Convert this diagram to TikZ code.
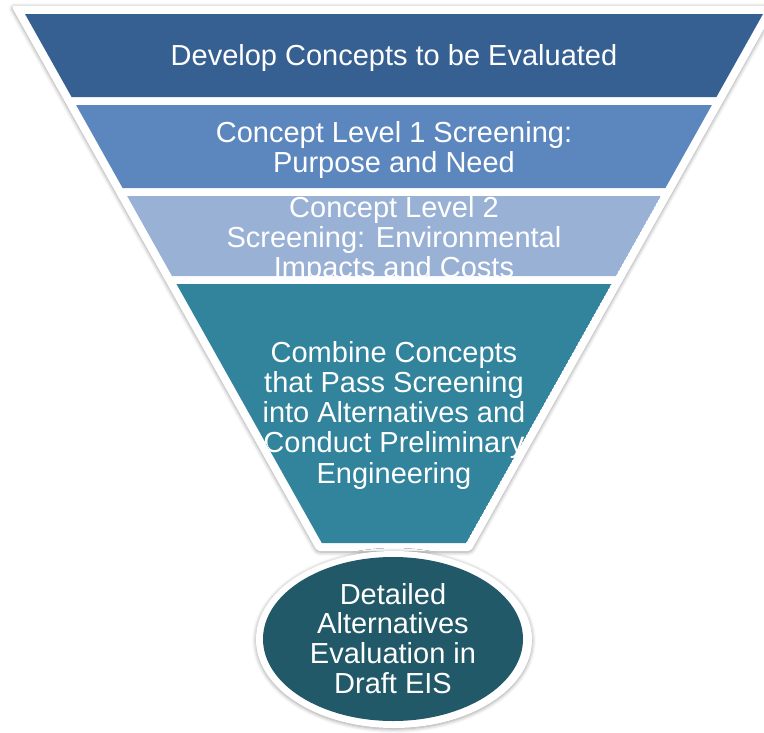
\documentclass[tikz,border=0pt]{standalone}
\usepackage{fontspec}
\setmainfont{Liberation Sans}
\usetikzlibrary{shadows.blur}
\definecolor{cA}{HTML}{366092}
\definecolor{cB}{HTML}{5B87BE}
\definecolor{cC}{HTML}{9AB1D6}
\definecolor{cD}{HTML}{31849B}
\definecolor{cE}{HTML}{215968}
\begin{document}
\begin{tikzpicture}[x=1pt,y=-1pt,
  lbl/.style={text=white,font=\fontsize{29}{30.3}\selectfont,align=center,anchor=base,inner sep=0pt},
  frame/.style={fill=white,blur shadow={shadow xshift=0pt,shadow yshift=-1pt,shadow blur radius=4pt,shadow opacity=40}}]
\useasboundingbox (0,0) rectangle (764,732);
% outer white funnel frame
\path[frame,rounded corners=3pt] (11.3,6) -- (776.7,6) -- (470.9,551) -- (317.1,551) -- cycle;
% ellipse frame
\path[frame] (394,639.5) ellipse (138 and 88.5);
% layer 1
\fill[cA] (25,14) -- (763,14) -- (716.4,97) -- (71.6,97) -- cycle;
\node[lbl] (t1) at (394,65) {Develop Concepts to be Evaluated};
% layer 2
\fill[cB] (76.1,105) -- (711.9,105) -- (665.4,188) -- (122.6,188) -- cycle;
\node[lbl] (t2) at (394,172.5) {Concept Level 1 Screening:\\Purpose and Need};
% layer 3
\begin{scope}
\clip (127.1,196) -- (660.9,196) -- (616.0,276) -- (172.0,276) -- cycle;
\fill[cC] (127.1,196) -- (660.9,196) -- (616.0,276) -- (172.0,276) -- cycle;
\node[lbl] (t3) at (394,277.6) {Concept Level 2\\Screening: Environmental\\Impacts and Costs};
\end{scope}
% layer 4
\begin{scope}
\clip (176.5,284) -- (611.5,284) -- (466.2,543) -- (321.8,543) -- cycle;
\fill[cD] (176.5,284) -- (611.5,284) -- (466.2,543) -- (321.8,543) -- cycle;
\node[lbl] (t4) at (394,483.2) {Combine Concepts\\that Pass Screening\\into Alternatives and\\Conduct Preliminary\\Engineering};
\end{scope}
% ellipse
\fill[cE] (393,639) ellipse (130 and 82);
\node[lbl,font=\fontsize{29}{29.7}\selectfont] (t5) at (393,693.1) {Detailed\\Alternatives\\Evaluation in\\Draft EIS};
\end{tikzpicture}
\end{document}
